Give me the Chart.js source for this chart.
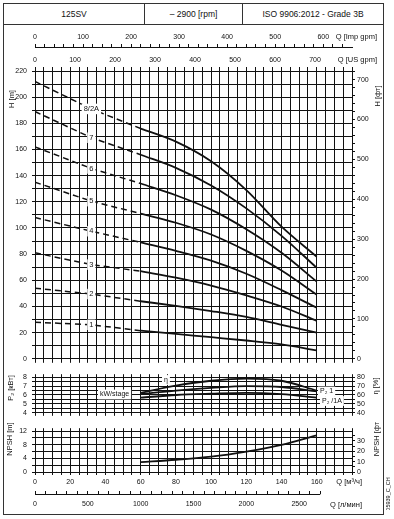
<!DOCTYPE html>
<html>
<head>
<meta charset="utf-8">
<script src="https://cdn.jsdelivr.net/npm/chart.js@4.4.1/dist/chart.umd.min.js"></script>
<style>
  body { margin: 0; background: #fff; width: 394px; height: 519px; position: relative; overflow: hidden;
         font-family: "Liberation Sans", Arial, sans-serif; color: #111; }
  canvas { position: absolute; left: 0; }
  .ln { position: absolute; background: #333; }
  .hd { position: absolute; top: 3px; height: 21px; line-height: 22px; text-align: center; font-size: 8.5px; }
</style>
</head>
<body>
<div class="ln" style="left:3px;top:3px;width:381px;height:1px"></div>
<div class="ln" style="left:3px;top:514px;width:381px;height:1px"></div>
<div class="ln" style="left:3px;top:3px;width:1px;height:512px"></div>
<div class="ln" style="left:383px;top:3px;width:1px;height:512px"></div>
<div class="ln" style="left:3px;top:24px;width:381px;height:1px"></div>
<div class="ln" style="left:144px;top:3px;width:1px;height:22px"></div>
<div class="ln" style="left:242px;top:3px;width:1px;height:22px"></div>
<div class="hd" style="left:4px;width:140px">125SV</div>
<div class="hd" style="left:145px;width:97px">– 2900 [rpm]</div>
<div class="hd" style="left:243px;width:140px">ISO 9906:2012 - Grade 3B</div>

<canvas id="head" width="394" height="342" style="top:26px"></canvas>
<canvas id="power" width="394" height="54" style="top:368px"></canvas>
<canvas id="npsh" width="394" height="88" style="top:422px"></canvas>

<script>
// ---- data (Q in m3/h) ----
const qDash = [0, 32, 60];
const qRun = [60, 80, 100, 120, 140, 160];
const stages = ['8/2A', '7', '6', '5', '4', '3', '2', '1'];
const headDash = [
  [212, 191, 176],
  [189, 169, 156],
  [162, 145.5, 134],
  [135, 120.5, 111],
  [108, 97.5, 89],
  [81, 72, 67],
  [54, 49.5, 44],
  [28, 26, 21.5]
];
const headRun = [
  [176, 166, 151, 129, 101, 78],
  [156, 146, 132.5, 115, 94, 69.5],
  [134, 125, 114, 99, 81, 59],
  [111, 104, 95, 82.5, 67.5, 49],
  [89, 82.5, 75, 65, 52.5, 39],
  [67, 62, 56, 48.5, 40, 29],
  [44, 40.5, 36.5, 32, 26, 20],
  [21.5, 19, 16.5, 14, 11, 6.5]
];
const eta = [62.5, 70.5, 76, 78.5, 76, 65];
const p2Std = [6.1, 6.5, 6.8, 7.0, 6.9, 6.4];
const p2A = [5.7, 6.0, 6.15, 6.25, 6.1, 5.7];
const npshReq = [2.9, 3.6, 4.5, 6.0, 8.0, 10.8];

// ---- tick labels ----
const m3hLabels = [0, 20, 40, 60, 80, 100, 120, 140, 160];
const lminLabels = [0, 500, 1000, 1500, 2000, 2500];
const impLabels = [0, 100, 200, 300, 400, 500, 600];
const usLabels = [0, 100, 200, 300, 400, 500, 600, 700];
const hLabels = [0, 20, 40, 60, 80, 100, 120, 140, 160, 180, 200, 220];
const hFtLabels = [0, 100, 200, 300, 400, 500, 600, 700];
const p2Labels = [4, 5, 6, 7, 8];
const etaLabels = [40, 50, 60, 70, 80];
const npshLabels = [0, 4, 8, 12];
const npshFtLabels = [0, 10, 20, 30];

const QMAX = 180, FT = 3.28084;
const INK = '#111';
const FONT = '"Liberation Sans", Arial, sans-serif';

Chart.defaults.font.family = FONT;
Chart.defaults.font.size = 7;
Chart.defaults.color = INK;

const pick = list => v => list.includes(v) ? String(v) : '';
const pts = (xs, ys) => xs.map((x, i) => ({ x: x, y: ys[i] }));
// explicit tick list, so odd axis maxima don't stretch the step
const stepTicks = (from, to, step) => s => {
  const t = [];
  for (let v = from; v <= to + 1e-9; v += step) t.push({ value: Math.round(v * 100) / 100 });
  s.ticks = t;
};

function qAxis(pos, h, tl, onArea, extra) {
  return Object.assign({
    type: 'linear', position: pos, min: 0, max: QMAX, weight: 0,
    ticks: { display: false, stepSize: 5, autoSkip: false, maxRotation: 0 },
    grid: { color: INK, lineWidth: 1, tickLength: tl, drawOnChartArea: onArea },
    border: { color: INK },
    afterFit: s => { s.height = h; }
  }, extra || {});
}
function yAxis(pos, min, max, step, labels, w, onArea, pad) {
  return {
    type: 'linear', position: pos, min: min, max: max,
    ticks: { autoSkip: false, padding: pad, callback: pick(labels) },
    afterBuildTicks: stepTicks(min, max, step),
    grid: { color: INK, lineWidth: 1, tickLength: 3, drawOnChartArea: onArea },
    border: { color: INK },
    afterFit: s => { s.width = w; }
  };
}

function labelBox(ctx, t, x, y, size, align) {
  ctx.font = size + 'px ' + FONT;
  const w = ctx.measureText(t).width;
  const x0 = align === 'center' ? x - w / 2 : x;
  ctx.fillStyle = '#fff';
  ctx.fillRect(x0 - 2, y - size * 0.7, w + 4, size * 1.4);
  ctx.fillStyle = INK;
  ctx.textAlign = 'left';
  ctx.textBaseline = 'middle';
  ctx.fillText(t, x0, y);
}

const decor = {
  id: 'decor',
  afterDatasetsDraw(chart, args, o) {
    const ctx = chart.ctx;
    ctx.save();
    chart.data.datasets.forEach((ds, i) => {
      if (!ds.tag) return;
      const p = chart.getDatasetMeta(i).data[1];
      labelBox(ctx, ds.tag, p.x, p.y, 7.5, 'center');
    });
    (o.boxes || []).forEach(b => labelBox(ctx, b.t, b.x, b.y - o.top, b.size || 7, 'left'));
    ctx.restore();
  },
  afterDraw(chart, args, o) {
    const ctx = chart.ctx;
    if (o.axisLine) {
      const s = chart.scales[o.axisLine.id];
      const y = Math.round(s.top) + 0.5;
      ctx.save();
      ctx.strokeStyle = INK;
      ctx.lineWidth = 1;
      ctx.beginPath();
      ctx.moveTo(s.getPixelForValue(0), y);
      ctx.lineTo(s.getPixelForValue(o.axisLine.to), y);
      ctx.stroke();
      ctx.restore();
    }
    (o.texts || []).forEach(n => {
      ctx.save();
      ctx.font = (n.size || 7.5) + 'px ' + FONT;
      ctx.fillStyle = INK;
      ctx.textBaseline = 'middle';
      ctx.translate(n.x, n.y - o.top);
      if (n.rot) ctx.rotate(n.rot * Math.PI / 180);
      ctx.textAlign = n.align || 'center';
      ctx.fillText(n.t, 0, 0);
      ctx.restore();
    });
  }
};

function baseOpts(scales, top, texts, boxes, axisLine) {
  return {
    responsive: false, animation: false, devicePixelRatio: 1,
    layout: { padding: 0 },
    events: [],
    plugins: { legend: { display: false }, tooltip: { enabled: false },
               decor: { top: top, texts: texts, boxes: boxes || [], axisLine: axisLine } },
    scales: scales
  };
}

// ---- H chart ----
const headSets = [];
stages.forEach((s, i) => {
  headSets.push({ data: pts(qDash, headDash[i]), tag: s, borderColor: INK, borderWidth: 1.5,
                  borderDash: [6, 4], pointRadius: 0 });
  headSets.push({ data: pts(qRun, headRun[i]), borderColor: INK, borderWidth: 1.8,
                  pointRadius: 0, cubicInterpolationMode: 'monotone' });
});

new Chart(document.getElementById('head'), {
  type: 'line',
  data: { datasets: headSets },
  plugins: [decor],
  options: baseOpts({
    x: qAxis('bottom', 5, 4, true),
    xt: qAxis('top', 4, 4, false),
    xus: { type: 'linear', position: 'top', min: 0, max: QMAX * 1000 / 60 / 3.78541, weight: 1,
           ticks: { autoSkip: false, maxRotation: 0, padding: 3, callback: pick(usLabels) },
           afterBuildTicks: stepTicks(0, 700, 100),
           grid: { display: false, drawTicks: false }, border: { display: false },
           afterFit: s => { s.height = 20; } },
    ximp: { type: 'linear', position: 'top', min: 0, max: QMAX * 1000 / 60 / 4.54609, weight: 2,
            ticks: { autoSkip: false, maxRotation: 0, padding: 3, callback: pick(impLabels) },
            afterBuildTicks: stepTicks(0, 640, 20),
            grid: { color: INK, tickLength: 3, drawOnChartArea: false }, border: { color: INK },
            afterFit: s => { s.height = 21; } },
    y: yAxis('left', 0, 220, 10, hLabels, 35, true, 5),
    yft: yAxis('right', 0, 220 * FT, 20, hFtLabels, 42, false, 2)
  }, 26, [
    { t: 'H [m]', x: 11.5, y: 99, rot: -90 },
    { t: 'H [фт]', x: 377.5, y: 96, rot: -90 },
    { t: 'Q [Imp gpm]', x: 377, y: 37, align: 'right' },
    { t: 'Q [US gpm]', x: 377, y: 60, align: 'right' }
  ])
});

// ---- P2 / eta chart ----
new Chart(document.getElementById('power'), {
  type: 'line',
  data: { datasets: [
    { data: pts(qRun, eta), yAxisID: 'yEta', borderColor: INK, borderWidth: 1.8, pointRadius: 0, cubicInterpolationMode: 'monotone' },
    { data: pts(qRun, p2Std), borderColor: INK, borderWidth: 1.8, pointRadius: 0, cubicInterpolationMode: 'monotone' },
    { data: pts(qRun, p2A), borderColor: INK, borderWidth: 1.8, pointRadius: 0, cubicInterpolationMode: 'monotone' }
  ] },
  plugins: [decor],
  options: baseOpts({
    x: qAxis('bottom', 5, 3, true),
    xt: qAxis('top', 7, 3, false),
    y: yAxis('left', 4, 8, 0.5, p2Labels, 35, true, 5),
    yEta: yAxis('right', 40, 80, 5, etaLabels, 42, false, 2)
  }, 368, [
    { t: 'P₂ [кВт]', x: 11, y: 388, rot: -90 },
    { t: 'η [%]', x: 376, y: 386, rot: -90 }
  ], [
    { t: 'kW/stage', x: 100, y: 394.5 },
    { t: 'η', x: 164, y: 380 },
    { t: 'P₂ 1', x: 320, y: 391.5 },
    { t: 'P₂ /1A', x: 322, y: 401 }
  ])
});

// ---- NPSH chart ----
new Chart(document.getElementById('npsh'), {
  type: 'line',
  data: { datasets: [
    { data: pts(qRun, npshReq), borderColor: INK, borderWidth: 1.8, pointRadius: 0, cubicInterpolationMode: 'monotone' }
  ] },
  plugins: [decor],
  options: baseOpts({
    x: qAxis('bottom', 22, 3, true, {
      ticks: { display: true, stepSize: 5, autoSkip: false, maxRotation: 0, padding: 3, callback: pick(m3hLabels) } }),
    xl: { type: 'linear', position: 'bottom', min: 0, max: QMAX * 1000 / 60, weight: 1,
          ticks: { autoSkip: false, maxRotation: 0, padding: 9, callback: pick(lminLabels) },
          afterBuildTicks: stepTicks(0, 2700, 100),
          grid: { color: INK, tickLength: -3, drawOnChartArea: false }, border: { display: false },
          afterFit: s => { s.height = 16; } },
    xt: qAxis('top', 7, 3, false),
    y: yAxis('left', 0, 12, 2, npshLabels, 35, true, 5),
    yft: yAxis('right', 0, 12 * FT, 5, npshFtLabels, 42, false, 2)
  }, 422, [
    { t: 'NPSH [m]', x: 10, y: 439, rot: -90 },
    { t: 'NPSH [фт]', x: 377, y: 438, rot: -90 },
    { t: 'Q [м³/ч]', x: 362, y: 482, align: 'right' },
    { t: 'Q [л/мин]', x: 362, y: 505, align: 'right' },
    { t: '05939_C_CH', x: 388, y: 494, rot: -90, size: 5.5 }
  ], [], { id: 'xl', to: 2700 })
});
</script>
</body>
</html>
